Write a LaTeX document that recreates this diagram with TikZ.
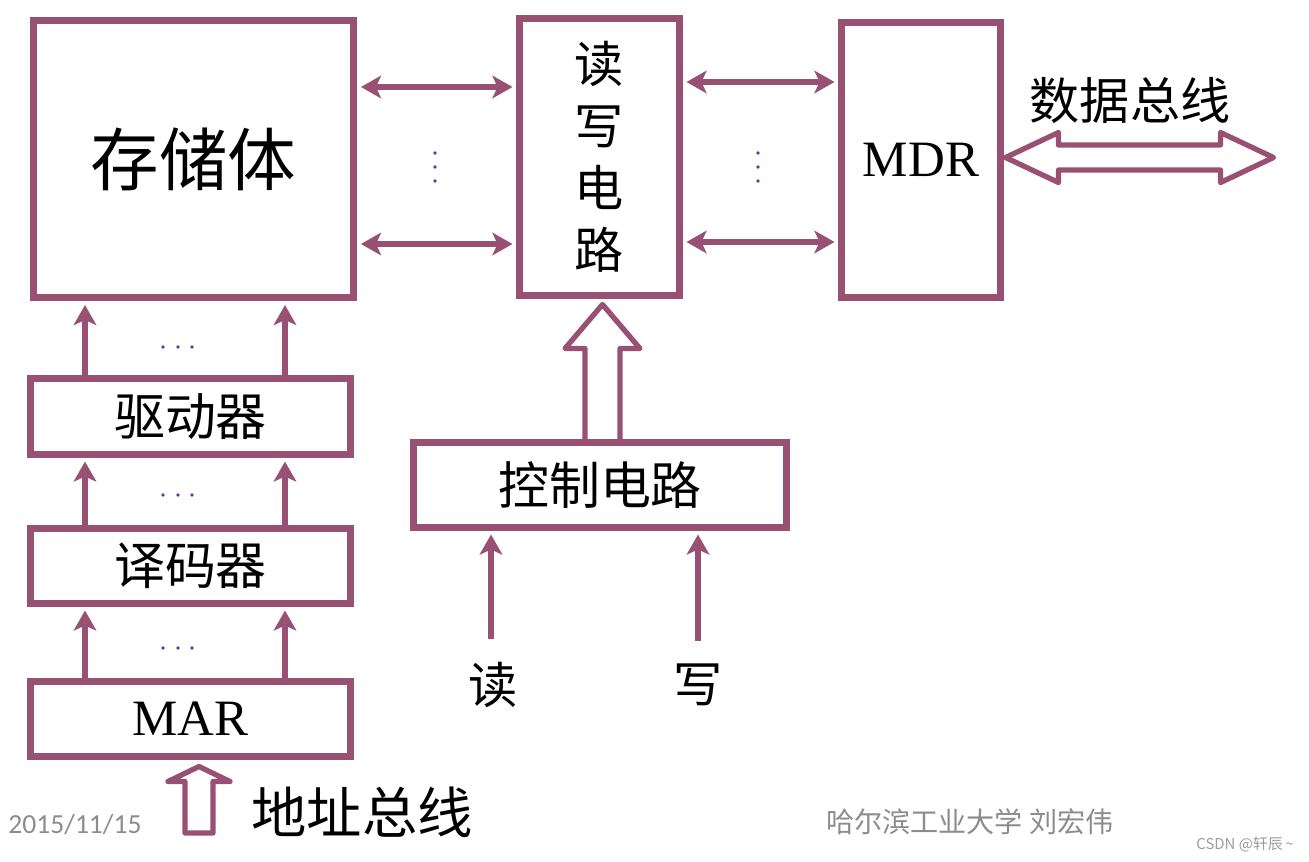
\documentclass[tikz,border=0pt]{standalone}
\usepackage{fontspec}
\setmainfont{Liberation Serif}
\newfontfamily\cjk{Noto Sans CJK SC}
\newfontfamily\datefont{Carlito}
\usepackage{tikz}
\usetikzlibrary{arrows.meta, calc}
\definecolor{boxred}{RGB}{152, 80, 115}
\definecolor{dotpurple}{RGB}{112, 48, 160}
\definecolor{footgray}{RGB}{140, 140, 140}

\begin{document}
\begin{tikzpicture}[
    x=0.02cm, y=-0.02cm,
    box/.style={draw=boxred, line width=4pt, inner sep=0pt, align=center, font=\fontsize{29pt}{35pt}\selectfont\cjk},
    arrow/.style={-{Stealth[length=0.4cm, width=0.45cm, inset=0.1cm]}, line width=3.8pt, boxred, shorten >=2pt},
    dblarrow/.style={{Stealth[length=0.4cm, width=0.45cm, inset=0.1cm]}-{Stealth[length=0.4cm, width=0.45cm, inset=0.1cm]}, line width=3.8pt, boxred, shorten >=2pt, shorten <=2pt},
    hollowarrow/.style={draw=boxred, line width=3pt, line join=round, fill=white},
    cnlabel/.style={font=\fontsize{28pt}{34pt}\selectfont\cjk},
    footer/.style={text=footgray}
]
    \useasboundingbox (0,0) rectangle (1309,862);

    % --- MEMORY, READ/WRITE, MDR ---
    \node[box, minimum width=6.42cm, minimum height=5.56cm, font=\fontsize{39pt}{45pt}\selectfont\cjk] (mem) at (193.5,159) {存储体};
    \node[box, minimum width=3.2cm, minimum height=5.54cm, font=\fontsize{28pt}{35.2pt}\selectfont\cjk] (rw) at (599.5,157) {读\\写\\电\\路};
    \node[box, minimum width=3.18cm, minimum height=5.5cm, font=\fontsize{29pt}{35pt}\selectfont] (mdr) at (921,160) {MDR};

    \coordinate (lane1) at (0,87);
    \coordinate (lane2) at (0,244);
    \coordinate (lane3) at (0,82);
    \coordinate (lane4) at (0,242);
    \draw[dblarrow] (mem.east |- lane1) -- (rw.west |- lane1);
    \draw[dblarrow] (mem.east |- lane2) -- (rw.west |- lane2);
    \draw[dblarrow] (rw.east |- lane3) -- (mdr.west |- lane3);
    \draw[dblarrow] (rw.east |- lane4) -- (mdr.west |- lane4);
    \foreach \y in {153,167,181} {
        \fill[dotpurple] (435,\y) circle (1.1pt);
        \fill[dotpurple] (758,\y) circle (1.1pt);
    }

    % --- DATA BUS ---
    \node[cnlabel, font=\fontsize{28.5pt}{34pt}\selectfont\cjk] (databus) at (1130,100) {数据总线};
    \coordinate (busl) at ($(mdr.east)+(1.5,-2.5)$);
    \draw[hollowarrow] (busl) -- ++(53,-25) -- ++(0,12.5) -- ++(162,0) -- ++(0,-12.5) -- ++(53,25)
        -- ++(-53,25) -- ++(0,-12.5) -- ++(-162,0) -- ++(0,12.5) -- cycle;

    % --- ADDRESS PATH ---
    \node[box, minimum width=6.4cm, minimum height=1.52cm] (drv) at (190.5,416.5) {驱动器};
    \node[box, minimum width=6.4cm, minimum height=1.5cm] (dec) at (190.5,566) {译码器};
    \node[box, minimum width=6.4cm, minimum height=1.5cm, font=\fontsize{29pt}{35pt}\selectfont] (mar) at (190.5,719) {MAR};

    \coordinate (colA) at (85,0);
    \coordinate (colB) at (285,0);
    \foreach \c in {colA,colB} {
        \draw[arrow] (drv.north -| \c) -- (mem.south -| \c);
        \draw[arrow] (dec.north -| \c) -- (drv.south -| \c);
        \draw[arrow] (mar.north -| \c) -- (dec.south -| \c);
    }
    \foreach \y in {347,495,648} {
        \foreach \x in {163,178,192}
            \fill[dotpurple] (\x,\y) circle (1.1pt);
    }

    \node[cnlabel, font=\fontsize{31.5pt}{36pt}\selectfont\cjk] (addrbus) at (362,812) {地址总线};
    \draw[hollowarrow] ($(mar.south)+(-5.5,73)$) -- ++(0,-51.5) -- ++(-17,0) -- ++(31,-15)
        -- ++(31,15) -- ++(-17,0) -- ++(0,51.5) -- cycle;

    % --- CONTROL ---
    \node[box, minimum width=7.46cm, minimum height=1.7cm] (ctrl) at (600,485) {控制电路};
    \draw[hollowarrow] ($(ctrl.north)+(-15,0)$) -- ++(0,-90.5) -- ++(-20,0) -- ++(37.5,-44)
        -- ++(37.5,44) -- ++(-20,0) -- ++(0,90.5);

    \node[cnlabel] (rd) at (493,685) {读};
    \node[cnlabel] (wr) at (698,685) {写};
    \coordinate (rdin) at ($(rd.north)+(-2,-17)$);
    \coordinate (wrin) at ($(wr.north)+(0,-17)$);
    \draw[arrow] (rdin) -- (rdin |- ctrl.south);
    \draw[arrow] (wrin) -- (wrin |- ctrl.south);

    % --- FOOTER ---
    \node[footer, font=\fontsize{15.7pt}{18pt}\selectfont\datefont] (date) at (75,825) {2015/11/15};
    \node[footer, font=\fontsize{16pt}{18pt}\selectfont\cjk] (school) at (970,822) {哈尔滨工业大学\ 刘宏伟};
    \node[footer, text=footgray!85, font=\fontsize{8.5pt}{10pt}\selectfont\cjk] (mark) at (1245,845) {CSDN @轩辰\,\textasciitilde};

\end{tikzpicture}
\end{document}
